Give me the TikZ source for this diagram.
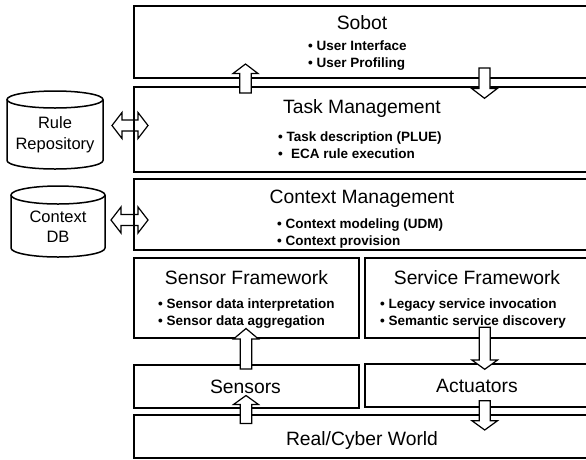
\documentclass[tikz,border=0pt]{standalone}
\usepackage{fontspec}
\setmainfont{Liberation Sans}
\newcommand\myUpBlock[4]{% center x, tip y, head base y, bottom y
  \draw[blk] (#1-5.8,#4) -- (#1-5.8,#3) -- (#1-12.5,#3) -- (#1,#2) -- (#1+12.5,#3) -- (#1+5.8,#3) -- (#1+5.8,#4) -- cycle;}
\newcommand\myDownBlock[4]{% center x, top y, head base y, tip y
  \draw[blk] (#1-5.5,#2) -- (#1-5.5,#3) -- (#1-12.8,#3) -- (#1,#4) -- (#1+12.8,#3) -- (#1+5.5,#3) -- (#1+5.5,#2) -- cycle;}
\newcommand\myDblBlock[3]{% left tip x, right tip x, center y
  \draw[dblk] (#1,#3) -- (#1+10,#3-13) -- (#1+10,#3-5.5) -- (#2-10,#3-5.5) -- (#2-10,#3-13) -- (#2,#3)
   -- (#2-10,#3+13) -- (#2-10,#3+5.5) -- (#1+10,#3+5.5) -- (#1+10,#3+13) -- cycle;}
\begin{document}
\begin{tikzpicture}[x=1pt,y=-1pt,
  layer/.style={draw, line width=1.7pt, inner sep=0pt, anchor=north west},
  ttl/.style={font=\fontsize{19.3}{22}\selectfont, inner sep=0pt, anchor=base},
  bul/.style={font=\bfseries\fontsize{13.5}{17}\selectfont, inner sep=0pt, anchor=base west},
  cyltxt/.style={font=\fontsize{16.5}{20}\selectfont, inner sep=0pt, anchor=base},
  cylline/.style={line width=1.5pt},
  blk/.style={draw, line width=1.2pt, fill=white, line join=miter},
  dblk/.style={draw, line width=1.2pt, line join=miter}]
\useasboundingbox (0,0) rectangle (586,459);
\clip (0,0) rectangle (586,459);
% layers
\node[layer, minimum width=459pt, minimum height=72pt] (sobot) at (133,5) {};
\node[layer, minimum width=459pt, minimum height=85pt] (task) at (133,86) {};
\node[layer, minimum width=459pt, minimum height=71pt] (ctx) at (133,178) {};
\node[layer, minimum width=225pt, minimum height=80pt] (sensfw) at (133,257) {};
\node[layer, minimum width=228pt, minimum height=80pt] (servfw) at (364,257) {};
\node[layer, minimum width=225pt, minimum height=43pt] (sensors) at (133,364) {};
\node[layer, minimum width=228pt, minimum height=43pt] (actuators) at (364,363) {};
\node[layer, minimum width=459pt, minimum height=43pt] (world) at (133,414) {};
% texts
\node[ttl] (sobotT) at (362,29) {Sobot};
\node[bul] (sobotB1) at (308,50.5) {• User Interface};
\node[bul] (sobotB2) at (308,67.5) {• User Profiling};
\node[ttl] (taskT) at (362,113) {Task Management};
\node[bul] (taskB1) at (278,141.5) {• Task description (PLUE)};
\node[bul] (taskB2) at (278,158.5) {•\hspace{4.5pt} ECA rule execution};
\node[ttl] (ctxT) at (362,203) {Context Management};
\node[bul] (ctxB1) at (277,228.5) {• Context modeling (UDM)};
\node[bul] (ctxB2) at (277,245) {• Context provision};
\node[ttl] (sensfwT) at (246.5,284) {Sensor Framework};
\node[bul] (sensfwB1) at (158,308.5) {• Sensor data interpretation};
\node[bul] (sensfwB2) at (158,325) {• Sensor data aggregation};
\node[ttl] (servfwT) at (477,284) {Service Framework};
\node[bul] (servfwB1) at (380,308.5) {• Legacy service invocation};
\node[bul] (servfwB2) at (380,325) {• Semantic service discovery};
\node[ttl] (sensorsT) at (245.5,393.8) {Sensors};
\node[ttl] (actuatorsT) at (477,392) {Actuators};
\node[ttl] (worldT) at (362,445.5) {Real/Cyber World};
% cylinders
\draw[cylline] (55,99.5) ellipse [x radius=48, y radius=8.5];
\draw[cylline] (7,99.5) -- (7,160.5) arc [start angle=180, end angle=0, x radius=48, y radius=8.5] -- (103,99.5);
\node[cyltxt] (rule1) at (55,128.5) {Rule};
\node[cyltxt] (rule2) at (55,149) {Repository};
\draw[cylline] (58,195) ellipse [x radius=47, y radius=9];
\draw[cylline] (11,195) -- (11,248) arc [start angle=180, end angle=0, x radius=47, y radius=9] -- (105,195);
\node[cyltxt] (db1) at (58,222.5) {Context};
\node[cyltxt] (db2) at (58,242) {DB};
% block arrows
\myDblBlock{112}{148}{125.5}
\myDblBlock{111}{148}{220}
\myUpBlock{245.5}{64}{73.5}{93}
\myDownBlock{484.5}{68}{88.5}{98.3}
\myUpBlock{246}{328.5}{339}{369}
\myUpBlock{246}{395.5}{404.5}{423.5}
\myDownBlock{484.7}{327.3}{360}{369.3}
\myDownBlock{484.7}{400.7}{420.7}{430}
\end{tikzpicture}
\end{document}
